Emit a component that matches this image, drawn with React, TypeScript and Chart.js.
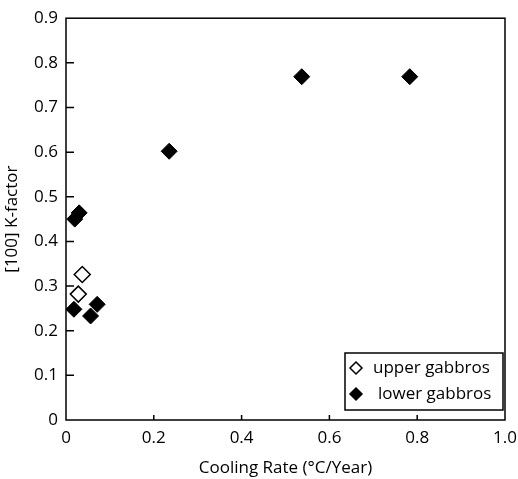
import React, { useEffect, useRef } from 'react';
import { Chart, registerables } from 'chart.js';

Chart.register(...registerables);

const seriesLabels = ['upper gabbros', 'lower gabbros'];
const upperX = [0.037, 0.028];
const upperY = [0.326, 0.282];
const lowerX = [0.018, 0.020, 0.030, 0.056, 0.071, 0.235, 0.537, 0.783];
const lowerY = [0.248, 0.450, 0.464, 0.233, 0.259, 0.602, 0.769, 0.769];
const xTitle = 'Cooling Rate (°C/Year)';
const yTitle = '[100] K-factor';
const xMin = 0, xMax = 1.0, xStep = 0.2;
const yMin = 0, yMax = 0.9, yStep = 0.1;

const FONT = "'Open Sans', 'Noto Sans', sans-serif";
const FS = 17;

const fmt = (v: number) => (Math.abs(v) < 1e-9 ? '0' : v.toFixed(1));

function diamond(ctx: CanvasRenderingContext2D, x: number, y: number, r: number, filled: boolean) {
  ctx.beginPath();
  ctx.moveTo(x, y - r);
  ctx.lineTo(x + r, y);
  ctx.lineTo(x, y + r);
  ctx.lineTo(x - r, y);
  ctx.closePath();
  ctx.fillStyle = filled ? '#000' : '#fff';
  ctx.fill();
  ctx.lineWidth = 1.5;
  ctx.strokeStyle = '#000';
  ctx.stroke();
}

const framePlugin = {
  id: 'frame',
  afterDatasetsDraw(chart: any) {
    const { ctx, chartArea: a, scales } = chart;
    ctx.save();
    ctx.strokeStyle = '#000';
    ctx.lineWidth = 1.5;
    ctx.strokeRect(a.left, a.top, a.right - a.left, a.bottom - a.top);
    // inward ticks
    ctx.beginPath();
    scales.x.ticks.forEach((t: any) => {
      const px = scales.x.getPixelForValue(t.value);
      if (px <= a.left + 1 || px >= a.right - 1) return;
      ctx.moveTo(px, a.bottom);
      ctx.lineTo(px, a.bottom - 5);
    });
    scales.y.ticks.forEach((t: any) => {
      const py = scales.y.getPixelForValue(t.value);
      if (py <= a.top + 1 || py >= a.bottom - 1) return;
      ctx.moveTo(a.left, py);
      ctx.lineTo(a.left + 8, py);
    });
    ctx.stroke();

    // legend
    const w = 158, h = 57;
    const lx = a.right - 2 - w;
    const ly = a.bottom - 10 - h;
    ctx.fillStyle = '#fff';
    ctx.fillRect(lx, ly, w, h);
    ctx.lineWidth = 1.5;
    ctx.strokeRect(lx, ly, w, h);
    ctx.font = `${FS}px ${FONT}`;
    ctx.textBaseline = 'middle';
    ctx.textAlign = 'left';
    chart.data.datasets.forEach((ds: any, i: number) => {
      const cy = ly + 15 + i * 26;
      const cx = lx + 11;
      diamond(ctx, cx, cy, 6, ds.backgroundColor === '#000');
      ctx.fillStyle = '#000';
      ctx.fillText(ds.label, lx + (i === 0 ? 28 : 33), cy);
    });
    ctx.restore();
  },
};

export default function App() {
  const ref = useRef<HTMLCanvasElement>(null);
  useEffect(() => {
    document.body.style.margin = '0';
    const chart = new Chart(ref.current!, {
      type: 'scatter',
      data: {
        datasets: [
          {
            label: seriesLabels[0],
            data: upperX.map((x, i) => ({ x, y: upperY[i] })),
            pointStyle: 'rectRot',
            pointRadius: 8,
            pointBorderWidth: 1.5,
            backgroundColor: '#fff',
            borderColor: '#000',
            order: 1,
          },
          {
            label: seriesLabels[1],
            data: lowerX.map((x, i) => ({ x, y: lowerY[i] })),
            pointStyle: 'rectRot',
            pointRadius: 8,
            pointBorderWidth: 1,
            backgroundColor: '#000',
            borderColor: '#000',
            order: 0,
          },
        ],
      },
      options: {
        responsive: false,
        animation: false,
        layout: { padding: { top: 15, left: 0, right: 0, bottom: 0 } },
        plugins: { legend: { display: false }, tooltip: { enabled: false } },
        scales: {
          x: {
            type: 'linear',
            min: xMin,
            max: xMax,
            grid: { display: false, drawTicks: false },
            border: { display: false },
            ticks: {
              stepSize: xStep,
              callback: (v: any) => fmt(Number(v)),
              font: { family: FONT, size: FS },
              color: '#000',
              padding: 8,
              maxRotation: 0,
            },
            title: {
              display: true,
              text: xTitle,
              font: { family: FONT, size: FS },
              color: '#000',
              padding: { top: 0, bottom: 1 },
            },
            afterFit: (s: any) => {
              s.height = 59;
              s.paddingRight = 13;
            },
          },
          y: {
            type: 'linear',
            min: yMin,
            max: yMax,
            grid: { display: false, drawTicks: false },
            border: { display: false },
            ticks: {
              stepSize: yStep,
              callback: (v: any) => fmt(Number(v)),
              font: { family: FONT, size: FS },
              color: '#000',
              padding: 8,
            },
            title: {
              display: true,
              text: yTitle,
              font: { family: FONT, size: FS },
              color: '#000',
              padding: { top: 2, bottom: 0 },
            },
            afterFit: (s: any) => {
              s.width = 66;
            },
          },
        },
      },
      plugins: [framePlugin],
    } as any);
    return () => chart.destroy();
  }, []);
  return <canvas ref={ref} width={518} height={479} />;
}
